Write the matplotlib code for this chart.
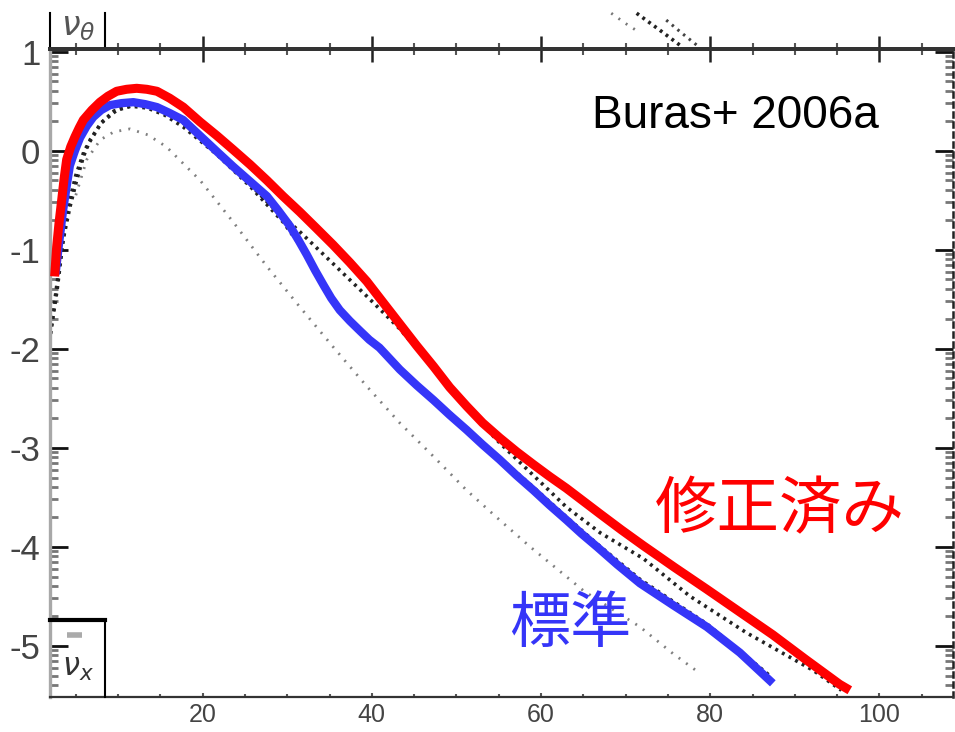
import numpy as np
import matplotlib
matplotlib.use('Agg')
import matplotlib.pyplot as plt
from matplotlib.ticker import FixedLocator, MultipleLocator

plt.rcParams['axes.unicode_minus'] = False
plt.rcParams['font.family'] = ['Liberation Sans', 'DejaVu Sans']
plt.rcParams['xtick.labelsize'] = 18
plt.rcParams['ytick.labelsize'] = 25

# ---------------- data ----------------
# modified (red) curve
red_x = [2.5, 2.74, 3.03, 3.33, 3.62, 3.92, 4.4, 4.9, 5.4, 5.89, 6.9, 7.86, 8.8, 9.83, 11.0,
         12.2, 13.4, 14.6, 16.1, 17.7, 19.7, 21.7, 23.6, 25.6, 27.6, 29.5, 31.5, 33.4,
         35.4, 37.4, 39.4, 41.3, 43.3, 45.3, 47.3, 49.2, 51.2, 53.1, 55.1, 57.1, 59.1,
         61.0, 63.0, 65.0, 67.0, 69.5, 72.1, 75.8, 79.6, 83.5, 87.4, 91.3, 95.3, 96.5]
red_y = [-1.27, -0.97, -0.72, -0.50, -0.28, -0.09, 0.04, 0.14, 0.23, 0.31, 0.41, 0.49, 0.55, 0.60, 0.62,
         0.63, 0.62, 0.60, 0.53, 0.44, 0.29, 0.15, 0.01, -0.14, -0.30, -0.46, -0.62, -0.78,
         -0.95, -1.13, -1.32, -1.53, -1.75, -1.97, -2.18, -2.39, -2.58, -2.75, -2.90, -3.04, -3.17,
         -3.29, -3.41, -3.54, -3.67, -3.83, -3.99, -4.21, -4.43, -4.66, -4.89, -5.14, -5.39, -5.45]

# standard (blue) curve
blue_x = [2.6, 3.0, 3.5, 3.9, 4.3, 4.9, 5.5, 6.3, 7.07, 8.0, 9.04, 10.4, 11.8, 13.2, 14.6,
          16.1, 17.7, 19.7, 21.7, 23.6, 25.6, 27.6, 28.9, 30.3, 31.3, 32.3, 33.3, 34.3,
          35.2, 36.2, 37.4, 38.6, 39.7, 40.9, 42.1, 43.3, 45.3, 47.3, 49.2, 51.2, 53.1,
          55.1, 57.1, 59.1, 61.0, 63.0, 64.8, 66.6, 69.0, 71.7, 75.6, 79.6, 83.5, 87.4]
blue_y = [-1.25, -0.95, -0.6, -0.37, -0.15, 0.0, 0.13, 0.25, 0.34, 0.41, 0.46, 0.48, 0.49, 0.47, 0.44,
          0.38, 0.31, 0.15, -0.01, -0.16, -0.31, -0.46, -0.60, -0.76, -0.90, -1.05, -1.21, -1.36,
          -1.49, -1.61, -1.72, -1.82, -1.91, -1.99, -2.10, -2.21, -2.37, -2.52, -2.67, -2.82, -2.97,
          -3.12, -3.28, -3.43, -3.58, -3.73, -3.87, -4.0, -4.18, -4.37, -4.59, -4.81, -5.07, -5.38]

# original black dotted curves of the scanned figure
dot1_x = [2.0, 2.8, 3.5, 4.3, 5.1, 5.9, 6.7, 8.0, 9.5, 11.5, 13.5, 15.5, 17.7, 21.7,
          25.6, 29.5, 32.3, 34.3, 36.2, 38.6, 40.9, 43.3, 47.3, 51.2, 55.1, 59.1,
          63.0, 66.6, 71.7, 79.6, 87.0]
dot1_y = [-1.85, -1.4, -0.9, -0.57, -0.30, -0.06, 0.11, 0.28, 0.40, 0.45, 0.43, 0.36, 0.24, -0.04,
          -0.36, -0.72, -1.05, -1.36, -1.6, -1.82, -2.0, -2.2, -2.5, -2.8, -3.1, -3.4,
          -3.7, -3.97, -4.33, -4.78, -5.3]

dot2_x = [2.0, 3.0, 4.0, 5.0, 6.0, 8.0, 10.0, 12.0, 14.0, 17.0, 20.0, 24.0, 28.0, 31.5,
          35.4, 39.4, 43.3, 47.3, 51.2, 55.1, 59.1, 63.0, 67.0, 72.1, 77.6, 84.3, 92.2, 95.5]
dot2_y = [-1.85, -1.2, -0.6, -0.25, 0.0, 0.28, 0.42, 0.46, 0.44, 0.33, 0.12, -0.2, -0.55, -0.82,
          -1.14, -1.47, -1.8, -2.2, -2.6, -2.95, -3.28, -3.6, -3.86, -4.12, -4.5, -4.87, -5.25, -5.45]

dot3_x = [5.0, 6.3, 7.9, 9.5, 11.4, 13.5, 15.7, 19.7, 23.6, 27.6, 31.5, 35.4, 39.4,
          43.3, 47.3, 51.2, 55.1, 58.7, 65.1, 71.7, 75.6, 78.8]
dot3_y = [-0.45, -0.09, 0.11, 0.19, 0.22, 0.16, 0.04, -0.30, -0.72, -1.17, -1.58, -1.98, -2.38,
          -2.75, -3.09, -3.43, -3.73, -4.0, -4.45, -4.81, -5.08, -5.28]

# upper (cut off) panel curves
top_a_x = [71.3, 74.0, 76.4]
top_a_y = [0.73, 0.39, 0.08]
top_b_x = [68.3, 70.0, 71.7]
top_b_y = [0.73, 0.52, 0.33]
top_c_x = [74.8, 76.6, 78.4]
top_c_y = [0.59, 0.33, 0.08]

xticks = [20, 40, 60, 80, 100]
yticks = [1, 0, -1, -2, -3, -4, -5]
ytick_labels = ['1', '0', '-1', '-2', '-3', '-4', '-5']

label_ref = 'Buras+ 2006a'
label_mod = '修正済み'
label_std = '標準'

# ---------------- figure ----------------
W, H = 955, 732
fig = plt.figure(figsize=(W / 100, H / 100), dpi=100)

L, R = 50 / W, 953 / W
B, T = 1 - 696.5 / H, 1 - 49 / H
ax = fig.add_axes([L, B, R - L, T - B])
ax.set_xlim(1.95, 108.7)
ax.set_ylim(-5.513, 1.027)

ax.plot(dot3_x, dot3_y, color='#808080', lw=2.0, ls=(0, (0.7, 2.6)), zorder=2)
ax.plot(dot1_x, dot1_y, color='#222222', lw=2.6, ls=(0, (0.8, 1.3)), zorder=2)
ax.plot(dot2_x, dot2_y, color='#222222', lw=2.6, ls=(0, (0.8, 1.3)), zorder=2)
ax.plot(blue_x, blue_y, color='#3535f8', lw=6.0, solid_capstyle='butt',
        solid_joinstyle='round', zorder=3)
ax.plot(red_x, red_y, color='#ff0000', lw=6.5, solid_capstyle='butt',
        solid_joinstyle='round', zorder=4)

# spines
ax.spines['left'].set_color('#a8a8a8')
ax.spines['left'].set_linewidth(2.4)
ax.spines['bottom'].set_color('#333333')
ax.spines['bottom'].set_linewidth(1.6)
ax.spines['top'].set_color('#333333')
ax.spines['top'].set_linewidth(2.8)
ax.spines['right'].set_color('#222222')
ax.spines['right'].set_linewidth(1.8)
ax.spines['right'].set_linestyle((0, (2, 2)))

# ticks
ax.xaxis.set_major_locator(FixedLocator(xticks))
ax.xaxis.set_minor_locator(MultipleLocator(5))
ax.yaxis.set_major_locator(FixedLocator(yticks))
ax.set_yticklabels(ytick_labels)
ax.yaxis.set_minor_locator(FixedLocator(
    [n + np.log10(k) for n in range(-6, 1) for k in range(2, 10)]))
ax.tick_params(axis='x', which='major', direction='in', length=3, width=1.5,
               color='#555555', top=False, pad=5, labelsize=18, labelcolor='#444444')
ax.tick_params(axis='x', which='minor', direction='in', length=2, width=1.5,
               color='#555555', top=False)
ax.tick_params(axis='y', which='major', direction='in', length=13, width=2,
               color='#111111', left=True, right=True, pad=7, labelsize=25,
               labelcolor='#444444')
ax.tick_params(axis='y', which='minor', direction='in', length=6, width=2,
               color='#777777', left=True, right=True)

# nu_x box in lower-left corner
bw = 55 / 903
bh = (696.5 - 620) / 647.5
ax.plot([0, bw], [bh, bh], transform=ax.transAxes, color='black', lw=3,
        clip_on=False, zorder=6)
ax.plot([bw, bw], [0, bh], transform=ax.transAxes, color='black', lw=1.5,
        clip_on=False, zorder=6)
ax.plot([17 / 903, 32 / 903], [0.095, 0.095], transform=ax.transAxes,
        color='#aaaaaa', lw=4, solid_capstyle='butt', zorder=6)
fig.text(78 / W, 1 - 668 / H, r'$\nu_x$', fontsize=22, color='#333333',
         ha='center', va='center')

# texts
fig.text(592 / W, 1 - 128 / H, label_ref, fontsize=33, color='black',
         ha='left', va='baseline')
fig.text(780 / W, 1 - 510 / H, label_mod, fontsize=45, color='#ff0000',
         family=['Noto Sans CJK JP', 'DejaVu Sans'], ha='center', va='center')
fig.text(570 / W, 1 - 625 / H, label_std, fontsize=44, color='#3535f8',
         family=['Noto Sans CJK JP', 'DejaVu Sans'], ha='center', va='center')

# ---------------- upper (cut-off) panel ----------------
axt = fig.add_axes([L, T, R - L, 1 - T])
axt.set_xlim(1.95, 108.7)
axt.set_ylim(0, 1)
axt.patch.set_alpha(0)
for s in ['top', 'right', 'left']:
    axt.spines[s].set_visible(False)
axt.spines['bottom'].set_color('#333333')
axt.spines['bottom'].set_linewidth(2.8)
axt.xaxis.set_major_locator(FixedLocator(xticks))
axt.xaxis.set_minor_locator(MultipleLocator(5))
axt.tick_params(axis='x', which='major', direction='inout', length=19, width=1.8,
                color='#222222', labelbottom=False)
axt.tick_params(axis='x', which='minor', direction='inout', length=9, width=1.5,
                color='#555555')
axt.set_yticks([])
axt.plot(top_b_x, top_b_y, color='#777777', lw=2, ls=(0, (0.7, 2.5)))
axt.plot(top_a_x, top_a_y, color='#222222', lw=2.6, ls=(0, (0.8, 1.2)))
axt.plot(top_c_x, top_c_y, color='#444444', lw=2.2, ls=(0, (0.8, 1.6)))
axt.plot([0, 0], [0, 0.735], transform=axt.transAxes, color='black', lw=1.5,
         clip_on=False)
axt.plot([bw, bw], [0, 0.735], transform=axt.transAxes, color='black', lw=1.5,
         clip_on=False)
fig.text(78 / W, 1 - 28 / H, r'$\nu_\theta$', fontsize=24, color='#555555',
         ha='center', va='center')

fig.savefig('out.png', dpi=100)
